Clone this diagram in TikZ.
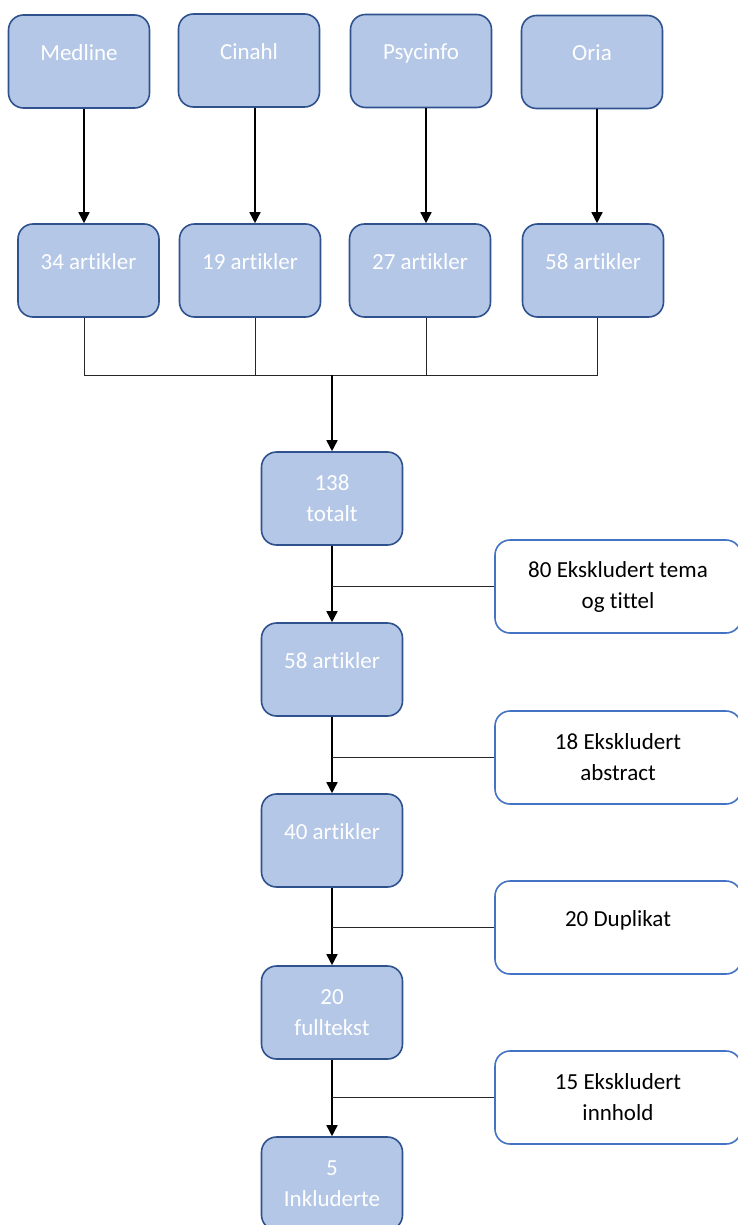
\documentclass[tikz,border=0pt]{standalone}
\usepackage{fontspec}
\setmainfont{Carlito}[Ligatures=NoCommon]
\usetikzlibrary{arrows.meta,positioning}

\definecolor{boxfill}{HTML}{B4C7E7}
\definecolor{boxline}{HTML}{2F528F}
\definecolor{exline}{HTML}{4472C4}

\tikzset{
  base/.style={rounded corners=15pt, minimum width=141pt, minimum height=93pt,
    inner sep=0pt, align=center, line width=1.6pt, font=\fontsize{23}{31}\selectfont},
  srcbox/.style={base, draw=boxline, fill=boxfill, text=white},
  exbox/.style={base, draw=exline, fill=white, text=black, minimum width=246pt},
  oneline/.style={text height=16pt, text depth=18pt},
  flow/.style={line width=1.6pt, -{Triangle[length=11pt,width=11pt]}},
  link/.style={line width=0.8pt, black!85}
}

\begin{document}
\begin{tikzpicture}[x=1pt,y=-1pt]
\useasboundingbox (0,0) rectangle (737,1225);

% databaser
\node[srcbox,oneline] (med) at (79,61.5) {Medline};
\node[srcbox,oneline] (cin) at (249,60.5) {Cinahl};
\node[srcbox,oneline] (psy) at (421,61) {Psycinfo};
\node[srcbox,oneline] (ori) at (592,62) {Oria};

% treff per base
\node[srcbox,oneline] (a34) at (88.5,270.5) {34 artikler};
\node[srcbox,oneline] (a19) at (250,270.5) {19 artikler};
\node[srcbox,oneline] (a27) at (420,270.5) {27 artikler};
\node[srcbox,oneline] (a58) at (593,270.5) {58 artikler};

\draw[flow] ([xshift=5pt]med.south) -- ([xshift=-4.5pt]a34.north);
\draw[flow] ([xshift=6pt]cin.south) -- ([xshift=5pt]a19.north);
\draw[flow] ([xshift=5pt]psy.south) -- ([xshift=6pt]a27.north);
\draw[flow] ([xshift=5pt]ori.south) -- ([xshift=4pt]a58.north);

% hovedkolonne
\node[srcbox] (tot) at (332,498.5) {138\\totalt};
\node[srcbox,oneline] (m58) at (332,669.5) {58 artikler};
\node[srcbox,oneline] (m40) at (332,840.5) {40 artikler};
\node[srcbox] (ful) at (332,1012.5) {20\\fulltekst};
\node[srcbox] (inc) at (332,1183.5) {5\\Inkluderte};

% samleskinne
\coordinate (bus) at (332,375);
\draw[link] ([xshift=-4.5pt]a34.south) |- (bus);
\draw[link] ([xshift=4pt]a58.south) |- (bus);
\draw[link] ([xshift=5pt]a19.south) -- ([xshift=5pt]a19.south |- bus);
\draw[link] ([xshift=6pt]a27.south) -- ([xshift=6pt]a27.south |- bus);
\draw[flow] (bus) -- (tot.north);

\draw[flow] (tot.south) -- (m58.north);
\draw[flow] (m58.south) -- (m40.north);
\draw[flow] (m40.south) -- (ful.north);
\draw[flow] (ful.south) -- (inc.north);

% eksklusjoner
\node[exbox] (ex1) at (618,586.5) {80 Ekskludert tema\\og tittel};
\node[exbox] (ex2) at (618,757.5) {18 Ekskludert\\abstract};
\node[exbox,oneline] (ex3) at (618,927.5) {20 Duplikat};
\node[exbox] (ex4) at (618,1097.5) {15 Ekskludert\\innhold};

\draw[link] (ex1.west) -- (ex1.west -| tot.south);
\draw[link] (ex2.west) -- (ex2.west -| tot.south);
\draw[link] (ex3.west) -- (ex3.west -| tot.south);
\draw[link] (ex4.west) -- (ex4.west -| tot.south);
\end{tikzpicture}
\end{document}
